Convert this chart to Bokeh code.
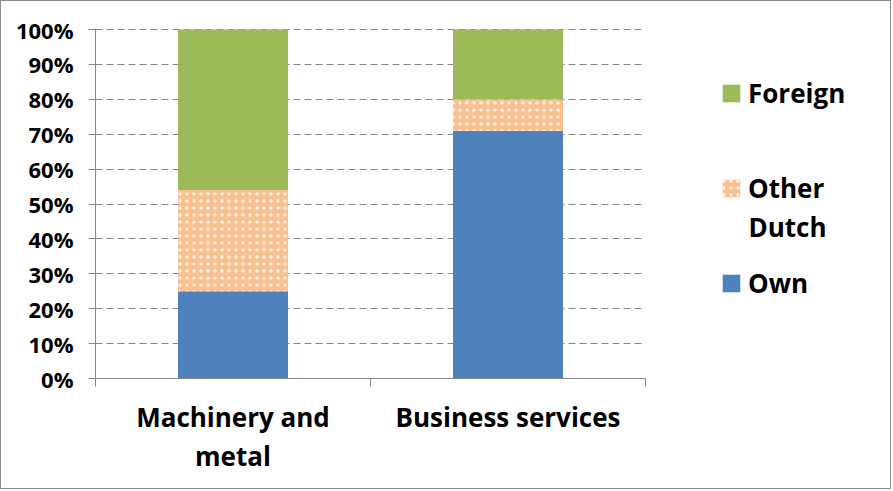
from bokeh.plotting import figure
from bokeh.models import (ColumnDataSource, Range1d, FixedTicker, PrintfTickFormatter,
                          Legend, LegendItem, Label)
from bokeh.embed import file_html
from bokeh.resources import INLINE

# ---- data ----
categories = ["Machinery and\nmetal", "Business services"]
own = [25, 71]
other_dutch = [29, 9]
foreign = [46, 20]
y_ticks = [0, 10, 20, 30, 40, 50, 60, 70, 80, 90, 100]
series = ["own", "other_dutch", "foreign"]
series_labels = ["Own", "Other Dutch", "Foreign"]
colors = ["#4F81BD", "#FAC090", "#9BBB59"]

n = len(categories)
x_pos = [i + 0.5 for i in range(n)]
source = ColumnDataSource(dict(x=x_pos, own=own, other_dutch=other_dutch, foreign=foreign))

FONT = "Open Sans"
GREY = "#868686"
W, H = 891, 489
FL, FT, FH = 94, 27, 350
BARS_W = 550                      # pixel width of the category area
FW = W - FL                       # frame extends to the right edge (room for legend)
px_x = BARS_W / n                 # pixels per x unit
Y_END = 100.3
px_y = FH / Y_END                 # pixels per y unit
BIG = "26px"

p = figure(width=W, height=H, output_backend="svg", toolbar_location=None,
           x_range=Range1d(0, FW / px_x), y_range=Range1d(0, Y_END),
           min_border_left=FL, min_border_top=FT,
           min_border_right=0, min_border_bottom=H - FT - FH,
           outline_line_color=None, background_fill_color="white",
           border_fill_color="white")
p.styles = {"border": "1px solid #8c8c8c"}

renderers = p.vbar_stack(series, x="x", width=0.4, source=source,
                         fill_color=colors, line_color=None)
r_other = renderers[1]
r_other.glyph.hatch_pattern = "dot"
r_other.glyph.hatch_color = "white"
r_other.glyph.hatch_scale = 7
r_other.glyph.hatch_weight = 1.5
r_other.glyph.hatch_alpha = 0.8

# y axis
p.yaxis.ticker = FixedTicker(ticks=y_ticks)
p.yaxis.formatter = PrintfTickFormatter(format="%d%%")
p.yaxis.axis_line_color = GREY
p.yaxis.major_tick_line_color = GREY
p.yaxis.major_tick_out = 7
p.yaxis.major_tick_in = 0
p.yaxis.minor_tick_line_color = None
p.yaxis.major_label_text_font = FONT
p.yaxis.major_label_text_font_style = "bold"
p.yaxis.major_label_text_font_size = "22px"
p.yaxis.major_label_text_color = "black"
p.yaxis.major_label_standoff = 15

# x axis: labels at category centres, tick marks at boundaries
p.xaxis.ticker = FixedTicker(ticks=x_pos, minor_ticks=list(range(n + 1)))
p.xaxis.major_label_overrides = {xp: c for xp, c in zip(x_pos, categories)}
p.xaxis.bounds = (0, n)
p.xaxis.axis_line_color = GREY
p.xaxis.major_tick_line_color = None
p.xaxis.major_tick_out = 0
p.xaxis.major_tick_in = 0
p.xaxis.minor_tick_line_color = GREY
p.xaxis.minor_tick_out = 8
p.xaxis.minor_tick_in = 0
p.xaxis.major_label_text_font = FONT
p.xaxis.major_label_text_font_style = "bold"
p.xaxis.major_label_text_font_size = BIG
p.xaxis.major_label_text_color = "black"
p.xaxis.major_label_text_line_height = 1.11
p.xaxis.major_label_standoff = 12

p.xgrid.grid_line_color = None
p.ygrid.grid_line_color = GREY
p.ygrid.grid_line_dash = "7 4"
p.ygrid.grid_line_width = 1.2
p.ygrid.cross_bounds = (0, n)

# legend (first word in legend, remaining words on following line)
first_words = [s.split(" ", 1)[0] for s in series_labels]
rest_words = [s.split(" ", 1)[1] if " " in s else "" for s in series_labels]
items = [LegendItem(label=first_words[i], renderers=[renderers[i]]) for i in [2, 1, 0]]
GLYPH = 22
STANDOFF = 6
LEG_X = 625
legend = Legend(items=items, location=(LEG_X, 77), orientation="vertical",
                label_text_font=FONT, label_text_font_style="bold",
                label_text_font_size=BIG, label_text_color="black",
                label_text_line_height=1.17,
                glyph_width=GLYPH, glyph_height=GLYPH, label_standoff=STANDOFF,
                spacing=59, padding=0, margin=0,
                border_line_color=None, background_fill_alpha=0)
p.add_layout(legend, "center")

# continuation line of the two-word legend label
for i, txt in enumerate(rest_words):
    if txt:
        p.add_layout(Label(x=(LEG_X + GLYPH + STANDOFF) / px_x, y=152 / px_y,
                           x_units="data", y_units="data", text=txt,
                           text_align="left", text_baseline="middle",
                           text_font=FONT, text_font_style="bold",
                           text_font_size=BIG, text_color="black"))

open("out.html", "w").write(file_html(p, INLINE))
